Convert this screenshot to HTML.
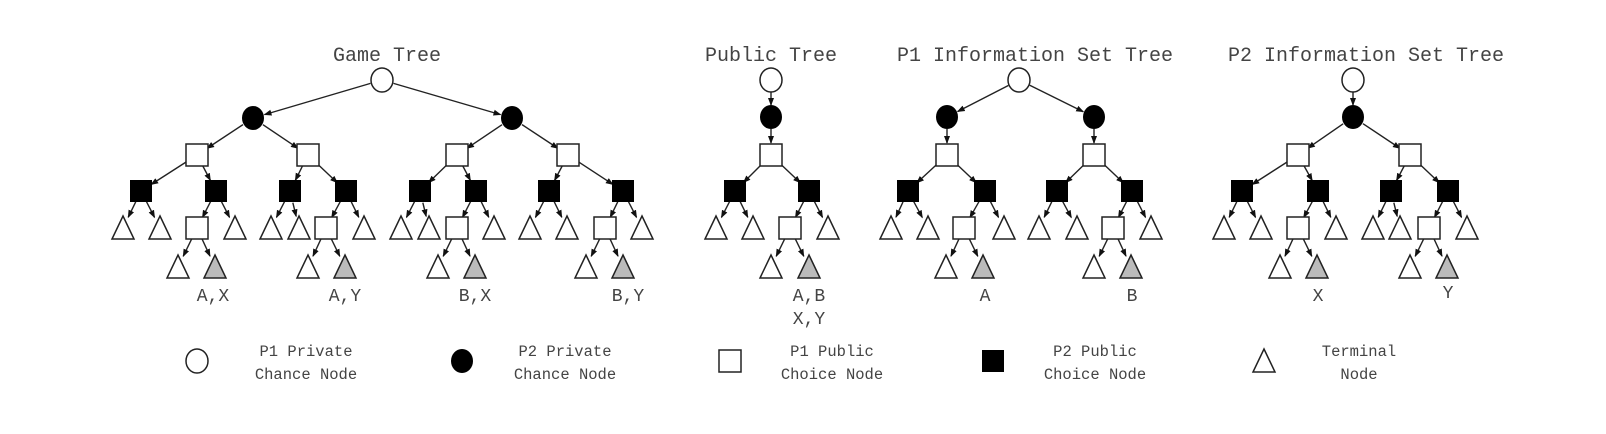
<!DOCTYPE html>
<html><head><meta charset="utf-8"><style>
html,body{margin:0;padding:0;background:#fff;}
svg{display:block;}
text{font-family:"Liberation Mono","DejaVu Sans Mono",monospace;fill:#444;}
</style></head><body>
<svg id="s" width="1606" height="434" viewBox="0 0 1606 434" xmlns="http://www.w3.org/2000/svg">
<defs><marker id="ar" markerWidth="8" markerHeight="8" refX="7" refY="4" orient="auto" markerUnits="userSpaceOnUse"><path d="M0,1 L8,4 L0,7 z" fill="#111"/></marker></defs>
<g id="e" stroke="#222" stroke-width="1.4" fill="none"></g>
<g id="n"></g>
<g font-size="20" text-anchor="middle">
<text x="387" y="61">Game Tree</text>
<text x="771" y="61">Public Tree</text>
<text x="1035" y="61">P1 Information Set Tree</text>
<text x="1366" y="61">P2 Information Set Tree</text>
</g>
<g font-size="18" text-anchor="middle">
<text x="213" y="301">A,X</text>
<text x="345" y="301">A,Y</text>
<text x="475" y="301">B,X</text>
<text x="628" y="301">B,Y</text>
<text x="809" y="301">A,B</text>
<text x="809" y="324">X,Y</text>
<text x="985" y="301">A</text>
<text x="1132" y="301">B</text>
<text x="1318" y="301">X</text>
<text x="1448" y="298">Y</text>
</g>
<g font-size="15.5" text-anchor="middle">
<text x="306" y="356">P1 Private</text><text x="306" y="379">Chance Node</text>
<text x="565" y="356">P2 Private</text><text x="565" y="379">Chance Node</text>
<text x="832" y="356">P1 Public</text><text x="832" y="379">Choice Node</text>
<text x="1095" y="356">P2 Public</text><text x="1095" y="379">Choice Node</text>
<text x="1359" y="356">Terminal</text><text x="1359" y="379">Node</text>
</g>
</svg>
<script>
var NS="http://www.w3.org/2000/svg",E=document.getElementById('e'),N=document.getElementById('n');
function el(t,a,p){var x=document.createElementNS(NS,t);for(var k in a)x.setAttribute(k,a[k]);(p||N).appendChild(x);return x;}
function node(t,x,y){
 if(t=='wc')el('ellipse',{cx:x,cy:y,rx:11,ry:12,fill:'#fff',stroke:'#222','stroke-width':1.5});
 if(t=='bc')el('ellipse',{cx:x,cy:y,rx:11,ry:12,fill:'#000'});
 if(t=='ws')el('rect',{x:x-11,y:y-11,width:22,height:22,fill:'#fff',stroke:'#222','stroke-width':1.5});
 if(t=='bs')el('rect',{x:x-11,y:y-11,width:22,height:22,fill:'#000'});
 if(t=='t'||t=='g')el('path',{d:'M'+x+','+(y-12)+' L'+(x+11)+','+(y+11)+' L'+(x-11)+','+(y+11)+' z',fill:t=='g'?'#bbb':'#fff',stroke:'#222','stroke-width':1.5});
}
function edge(x1,y1,x2,y2){var dx=x2-x1,dy=y2-y1,l=Math.sqrt(dx*dx+dy*dy);
 var r1=12,r2=12;el('line',{x1:x1+dx/l*r1,y1:y1+dy/l*r1,x2:x2-dx/l*r2,y2:y2-dy/l*r2,'marker-end':'url(#ar)'},E);}
function sub(px,py,t,x,y){edge(px,py,x,y);node(t,x,y);}
function chunk(sx,b1,b2,ta,tb,sq,tc,g1,g2){
 sub(sx,155,'bs',b1,191);sub(sx,155,'bs',b2,191);
 sub(b1,191,'t',ta,228);sub(b1,191,'t',tb,228);
 sub(b2,191,'ws',sq,228);sub(b2,191,'t',tc,228);
 sub(sq,228,'t',g1,267);sub(sq,228,'g',g2,267);
}
node('wc',382,80);
sub(382,80,'bc',253,118);sub(382,80,'bc',512,118);
sub(253,118,'ws',197,155);sub(253,118,'ws',308,155);
sub(512,118,'ws',457,155);sub(512,118,'ws',568,155);
chunk(197,141,216,123,160,197,235,178,215);
chunk(308,290,346,271,299,326,364,308,345);
chunk(457,420,476,401,429,457,494,438,475);
chunk(568,549,623,530,567,605,642,586,623);
node('wc',771,80);sub(771,80,'bc',771,117);sub(771,117,'ws',771,155);
chunk(771,735,809,716,753,790,828,771,809);
node('wc',1019,80);sub(1019,80,'bc',947,117);sub(1019,80,'bc',1094,117);
sub(947,117,'ws',947,155);sub(1094,117,'ws',1094,155);
chunk(947,908,985,891,928,964,1004,946,983);
chunk(1094,1057,1132,1039,1077,1113,1151,1094,1131);
node('wc',1353,80);sub(1353,80,'bc',1353,117);
sub(1353,117,'ws',1298,155);sub(1353,117,'ws',1410,155);
chunk(1298,1242,1318,1224,1261,1298,1336,1280,1317);
chunk(1410,1391,1448,1373,1400,1429,1467,1410,1447);
node('wc',197,361);node('bc',462,361);node('ws',730,361);node('bs',993,361);node('t',1264,361);
</script>
</body></html>
